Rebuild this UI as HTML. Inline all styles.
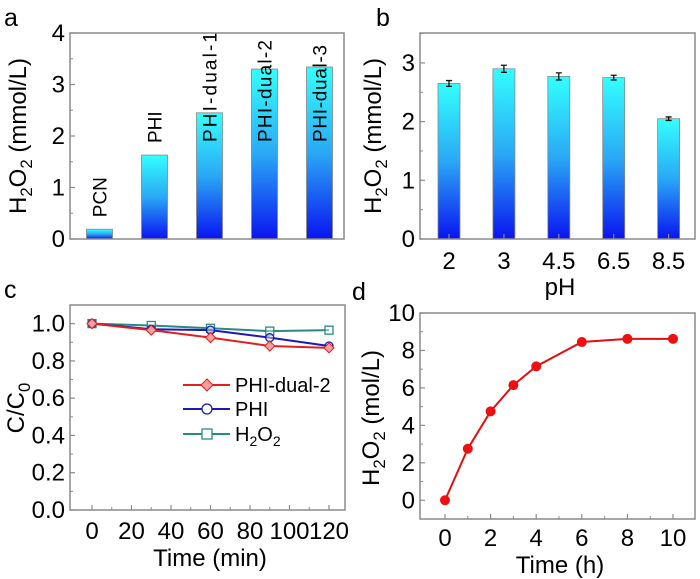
<!DOCTYPE html>
<html><head><meta charset="utf-8"><style>
html,body{margin:0;padding:0;background:#fff;}
svg{display:block;font-family:"Liberation Sans",Arial,sans-serif;}
</style></head><body>
<svg id="fig" width="700" height="579" viewBox="0 0 700 579">
<defs>
<linearGradient id="bg" x1="0" y1="0" x2="0" y2="1">
<stop offset="0" stop-color="#33ffff"/><stop offset="0.5" stop-color="#2aa8f5"/><stop offset="1" stop-color="#0a14f0"/>
</linearGradient>
</defs>
<g id="pa"></g>
<g id="pb"></g>
<g id="pc"></g>
<g id="pd"></g>
</svg>
<script>
const aCats=["PCN","PHI","PHI-dual-1","PHI-dual-2","PHI-dual-3"];
const aVals=[0.19,1.63,2.45,3.3,3.34];
const aTicks=[0,1,2,3,4];
const bCats=["2","3","4.5","6.5","8.5"];
const bVals=[2.65,2.9,2.77,2.75,2.05];
const bErr=[0.05,0.06,0.06,0.04,0.03];
const bTicks=[0,1,2,3];
const cTime=[0,30,60,90,120];
const cDual2=[1,0.965,0.925,0.88,0.87];
const cPHI=[1,0.97,0.965,0.925,0.88];
const cH2O2=[1,0.99,0.975,0.96,0.965];
const cYTicks=[0,0.2,0.4,0.6,0.8,1.0];
const cXTicks=[0,20,40,60,80,100,120];
const dTime=[0,1,2,3,4,6,8,10];
const dVals=[0,2.75,4.75,6.15,7.15,8.45,8.62,8.62];
const dYTicks=[0,2,4,6,8,10];
const dXTicks=[0,2,4,6,8,10];

const NS="http://www.w3.org/2000/svg";
function mk(parent,tag,attrs,text){const e=document.createElementNS(NS,tag);for(const k in attrs)e.setAttribute(k,attrs[k]);if(text!==undefined)e.textContent=text;parent.appendChild(e);return e;}
function box(g,x0,y0,x1,y1){
 const r=mk(g,'rect',{x:x0,y:y0,width:x1-x0,height:y1-y0,fill:'none',stroke:'#8a8a8a','stroke-width':1.5});
 
 
}
function ytick(g,x0,y,label,fs){
 mk(g,'line',{x1:x0,x2:x0+5,y1:y,y2:y,stroke:'#8a8a8a','stroke-width':1.2});
 const t=mk(g,'text',{x:x0-5,y:y+8,'text-anchor':'end','font-size':fs},label);
 
 
}
function xtick(g,x,y0,label,fs,ly){
 mk(g,'line',{x1:x,x2:x,y1:y0,y2:y0-5,stroke:'#8a8a8a','stroke-width':1.2});
 const t=mk(g,'text',{x:x,y:ly,'text-anchor':'middle','font-size':fs},label);
 
 
}
function ytitle(g,x,y,html,fs){
 const t=mk(g,'text',{x:0,y:0,transform:`translate(${x},${y}) rotate(-90)`,'text-anchor':'middle','font-size':fs});
 t.innerHTML=html;
 
 
}
function plabel(g,x,y,s){
 const t=mk(g,'text',{x:x,y:y,'font-size':25},s);
 
 
}
const H2O2='H<tspan font-size="70%" dy="6">2</tspan><tspan dy="-6">O</tspan><tspan font-size="70%" dy="6">2</tspan><tspan dy="-6">';

// Panel a
(function(){
 const g=document.getElementById('pa');
 const X0=70,X1=344,Y0=33,Y1=239,ymax=4;
 const ys=v=>Y1-(Y1-Y0)*v/ymax;
 const xs=i=>99.5+i*55;
 plabel(g,4,26,'a');
 for(let v=0.5;v<ymax;v+=1)mk(g,'line',{x1:X0,x2:X0+3,y1:ys(v),y2:ys(v),stroke:'#8a8a8a'});
 aVals.forEach((v,i)=>{
  const r=mk(g,'rect',{x:xs(i)-13,y:ys(v),width:26,height:Y1-ys(v),fill:'url(#bg)',stroke:'#888','stroke-width':0.8});
  
  
  const startY=i>=2?142:ys(v)-12;
  const attrs={x:0,y:0,transform:`translate(${xs(i)+7},${startY}) rotate(-90)`,'text-anchor':'start','font-size':19};
  if(i>=2){attrs.textLength=[110,102,97][i-2];attrs.lengthAdjust='spacing';}
  const t=mk(g,'text',attrs,aCats[i]);
  
  
 });
 box(g,X0,Y0,X1,Y1);
 aTicks.forEach(v=>ytick(g,X0,ys(v),String(v),24));
 ytitle(g,26,136,H2O2+' (mmol/L)</tspan>',24);
})();

// Panel b
(function(){
 const g=document.getElementById('pb');
 const X0=420,X1=695,Y0=33,Y1=239,ymax=3.51;
 const ys=v=>Y1-(Y1-Y0)*v/ymax;
 const xs=i=>449+i*54.9;
 plabel(g,376,26,'b');
 for(let v=0.5;v<ymax;v+=1)mk(g,'line',{x1:X0,x2:X0+3,y1:ys(v),y2:ys(v),stroke:'#8a8a8a'});
 bVals.forEach((v,i)=>{
  const r=mk(g,'rect',{x:xs(i)-11,y:ys(v),width:22,height:Y1-ys(v),fill:'url(#bg)',stroke:'#888','stroke-width':0.8});
  
  
  const e=bErr[i],yt=ys(v+e),yb=ys(v-e);
  const eb=mk(g,'path',{d:`M${xs(i)-3},${yt}H${xs(i)+3}M${xs(i)},${yt}V${yb}M${xs(i)-3},${yb}H${xs(i)+3}`,stroke:'#111','stroke-width':1.3,fill:'none'});
  
  
 });
 box(g,X0,Y0,X1,Y1);
 bTicks.forEach(v=>ytick(g,X0,ys(v),String(v),24));
 bCats.forEach((c,i)=>xtick(g,xs(i),Y1,c,24,269));
 const t=mk(g,'text',{x:560,y:295,'text-anchor':'middle','font-size':24},'pH');
 
 
 ytitle(g,381,136,H2O2+' (mmol/L)</tspan>',24);
})();

// Panel c
(function(){
 const g=document.getElementById('pc');
 const X0=70,X1=345,Y0=305,Y1=510;
 const ys=v=>Y1-(Y1-Y0)*v/1.1;
 const xs=t=>92+t*(237/120);
 plabel(g,4,298,'c');
 for(let v=0.1;v<1.1;v+=0.2)mk(g,'line',{x1:X0,x2:X0+3,y1:ys(v),y2:ys(v),stroke:'#8a8a8a'});
 for(let t=10;t<=120;t+=20)mk(g,'line',{x1:xs(t),x2:xs(t),y1:Y1,y2:Y1-3,stroke:'#8a8a8a'});
 const series=[[cH2O2,'#2a8a82','h2o2','sq'],[cPHI,'#1a1ab8','phi','ci'],[cDual2,'#e02020','phi-dual-2','di']];
 series.forEach(([vals,col,nm,mkr])=>{
  const pl=mk(g,'polyline',{points:vals.map((v,i)=>xs(cTime[i])+','+ys(v)).join(' '),fill:'none',stroke:col,'stroke-width':2});
  
  
  vals.forEach((v,i)=>{
   const x=xs(cTime[i]),y=ys(v);
   let m;
   if(mkr==='sq')m=mk(g,'rect',{x:x-4,y:y-4,width:8,height:8,fill:'#fff','fill-opacity':0.4,stroke:col,'stroke-width':1.3});
   else if(mkr==='ci')m=mk(g,'circle',{cx:x,cy:y,r:4,fill:'#fff','fill-opacity':0.4,stroke:col,'stroke-width':1.3});
   else m=mk(g,'path',{d:`M${x},${y-5}L${x+5},${y}L${x},${y+5}L${x-5},${y}Z`,fill:'#f0a0a0',stroke:col,'stroke-width':1});
   
   
  });
 });
 box(g,X0,Y0,X1,Y1);
 cYTicks.forEach(v=>ytick(g,X0,ys(v),v.toFixed(1),24));
 cXTicks.forEach(v=>xtick(g,xs(v),Y1,String(v),24,539));
 const xt=mk(g,'text',{x:210,y:566,'text-anchor':'middle','font-size':24},'Time (min)');
 
 
 ytitle(g,24,408,'C/C<tspan font-size="70%" dy="6">0</tspan>',24);
 const leg=[['PHI-dual-2','#e02020','di',385],['PHI','#1a1ab8','ci',409],['H2O2','#2a8a82','sq',434]];
 leg.forEach(([lab,col,mkr,y])=>{
  const lg=mk(g,'g',{});
  
  
  mk(lg,'line',{x1:183,x2:230,y1:y,y2:y,stroke:col,'stroke-width':2});
  const x=207;
  if(mkr==='sq')mk(lg,'rect',{x:x-5,y:y-5,width:10,height:10,fill:'#fff',stroke:col,'stroke-width':1.3});
  else if(mkr==='ci')mk(lg,'circle',{cx:x,cy:y,r:5,fill:'#fff',stroke:col,'stroke-width':1.3});
  else mk(lg,'path',{d:`M${x},${y-6}L${x+6},${y}L${x},${y+6}L${x-6},${y}Z`,fill:'#f4a0a0',stroke:col,'stroke-width':1});
  const t=mk(lg,'text',{x:235,y:y+7,'font-size':20});
  if(lab==='H2O2')t.innerHTML='H<tspan font-size="70%" dy="5">2</tspan><tspan dy="-5">O</tspan><tspan font-size="70%" dy="5">2</tspan>';
  else t.textContent=lab;
 });
})();

// Panel d
(function(){
 const g=document.getElementById('pd');
 const X0=420,X1=695,Y0=313,Y1=519;
 const ys=v=>Y1-(Y1-Y0)*(v+1)/11;
 const xs=t=>445+t*22.8;
 plabel(g,352,300,'d');
 for(let v=1;v<10;v+=2)mk(g,'line',{x1:X0,x2:X0+3,y1:ys(v),y2:ys(v),stroke:'#8a8a8a'});
 for(let t=1;t<10;t+=2)mk(g,'line',{x1:xs(t),x2:xs(t),y1:Y1,y2:Y1-3,stroke:'#8a8a8a'});
 const pl=mk(g,'polyline',{points:dVals.map((v,i)=>xs(dTime[i])+','+ys(v)).join(' '),fill:'none',stroke:'#e01010','stroke-width':2});
 
 
 dVals.forEach((v,i)=>{
  const c=mk(g,'circle',{cx:xs(dTime[i]),cy:ys(v),r:5,fill:'#ee1010'});
  
  
 });
 box(g,X0,Y0,X1,Y1);
 dYTicks.forEach(v=>ytick(g,X0,ys(v),String(v),24));
 dXTicks.forEach(v=>xtick(g,xs(v),Y1,String(v),24,546));
 const xt=mk(g,'text',{x:560,y:573,'text-anchor':'middle','font-size':24},'Time (h)');
 
 
 ytitle(g,379,418,H2O2+' (mol/L)</tspan>',24);
})();
</script>
</body></html>
